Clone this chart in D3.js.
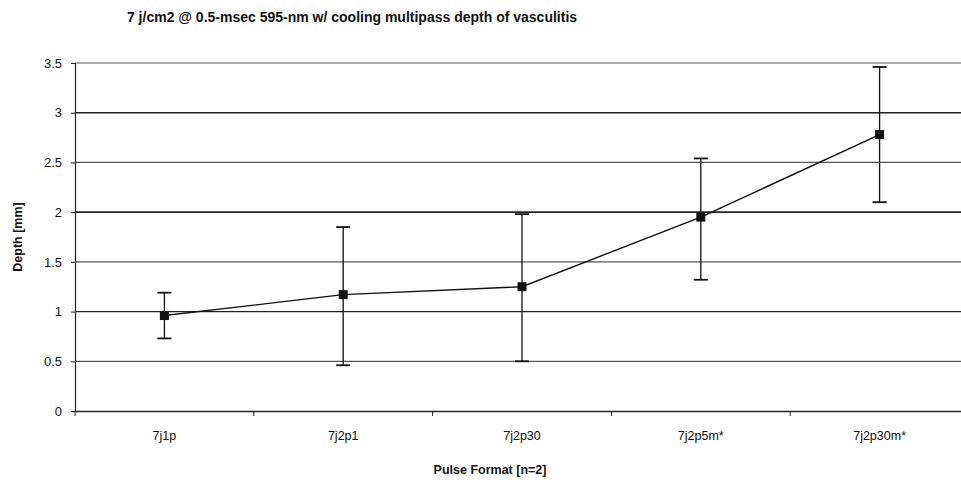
<!DOCTYPE html>
<html>
<head>
<meta charset="utf-8">
<script src="https://cdn.jsdelivr.net/npm/d3@7"></script>
<style>
  body { margin: 0; background: #fff; }
  svg { display: block; font-family: "Liberation Sans", Arial, sans-serif; }
</style>
</head>
<body>
<div id="chart"></div>
<script>
// data
const formats = ["7j1p", "7j2p1", "7j2p30", "7j2p5m*", "7j2p30m*"];
const depth = [0.96, 1.17, 1.25, 1.95, 2.78];
const errHigh = [1.19, 1.85, 1.98, 2.54, 3.46];
const errLow = [0.73, 0.46, 0.50, 1.32, 2.10];
const yTicks = [0, 0.5, 1, 1.5, 2, 2.5, 3, 3.5];

const width = 961;
const height = 482;
const margin = { top: 63, right: -8, bottom: 71, left: 75 };

const svg = d3.select("#chart").append("svg")
  .attr("width", width)
  .attr("height", height);

const x = d3.scaleBand()
  .domain(formats)
  .range([margin.left, width - margin.right]);

const y = d3.scaleLinear()
  .domain([0, 3.5])
  .range([height - margin.bottom, margin.top]);

// gridlines
svg.append("g")
  .selectAll("line")
  .data(yTicks.filter(d => d > 0))
  .enter()
  .append("line")
  .attr("x1", margin.left)
  .attr("x2", width - margin.right)
  .attr("y1", d => y(d))
  .attr("y2", d => y(d))
  .attr("stroke", d => (d === 3 || d === 2 || d === 1) ? "#222" : "#555")
  .attr("stroke-width", d => (d === 3 || d === 2) ? 1.6 : 1.2);

// y axis
const yAxis = svg.append("g")
  .attr("transform", "translate(" + margin.left + ",0)")
  .call(d3.axisLeft(y).tickValues(yTicks).tickSize(4).tickPadding(9).tickFormat(d3.format("")));
yAxis.select(".domain").attr("stroke", "#222").attr("stroke-width", 1.2);
yAxis.selectAll(".tick line").attr("stroke", "#222");
yAxis.selectAll("text").style("font-size", "13px").attr("fill", "#111");

// x axis
const xAxis = svg.append("g")
  .attr("transform", "translate(0," + y(0) + ")")
  .call(d3.axisBottom(x).tickSize(0).tickPadding(20));
xAxis.select(".domain").attr("stroke", "#222").attr("stroke-width", 1.4);
xAxis.selectAll("text").style("font-size", "12.5px").attr("fill", "#111");

// category separators
svg.append("g")
  .selectAll("line")
  .data(formats)
  .enter()
  .append("line")
  .attr("x1", d => x(d))
  .attr("x2", d => x(d))
  .attr("y1", y(0))
  .attr("y2", y(0) + 5)
  .attr("stroke", "#222");

const cx = d => x(d) + x.bandwidth() / 2;

// error bars
const err = svg.append("g").attr("stroke", "#111").attr("stroke-width", 1.3);
formats.forEach(function (f, i) {
  err.append("line")
    .attr("x1", cx(f)).attr("x2", cx(f))
    .attr("y1", y(errHigh[i])).attr("y2", y(errLow[i]));
  [errHigh[i], errLow[i]].forEach(function (v) {
    err.append("line")
      .attr("x1", cx(f) - 7).attr("x2", cx(f) + 7)
      .attr("y1", y(v)).attr("y2", y(v))
      .attr("stroke-width", 1.8);
  });
});

// line
const line = d3.line()
  .x((d, i) => cx(formats[i]))
  .y(d => y(d));
svg.append("path")
  .datum(depth)
  .attr("d", line)
  .attr("fill", "none")
  .attr("stroke", "#111")
  .attr("stroke-width", 1.4);

// markers
svg.append("g")
  .selectAll("rect")
  .data(depth)
  .enter()
  .append("rect")
  .attr("x", (d, i) => cx(formats[i]) - 4.5)
  .attr("y", d => y(d) - 4.5)
  .attr("width", 9)
  .attr("height", 9)
  .attr("fill", "#111");

// title and axis labels
svg.append("text")
  .attr("x", 352)
  .attr("y", 22)
  .attr("text-anchor", "middle")
  .style("font-size", "14px")
  .style("font-weight", "bold")
  .attr("fill", "#111")
  .text("7 j/cm2 @ 0.5-msec 595-nm w/ cooling multipass depth of vasculitis");

svg.append("text")
  .attr("transform", "translate(22," + (y(1.75)) + ") rotate(-90)")
  .attr("text-anchor", "middle")
  .style("font-size", "12.5px")
  .style("font-weight", "bold")
  .attr("fill", "#111")
  .text("Depth [mm]");

svg.append("text")
  .attr("x", 490)
  .attr("y", 474)
  .attr("text-anchor", "middle")
  .style("font-size", "12.5px")
  .style("font-weight", "bold")
  .attr("fill", "#111")
  .text("Pulse Format [n=2]");
</script>
</body>
</html>
